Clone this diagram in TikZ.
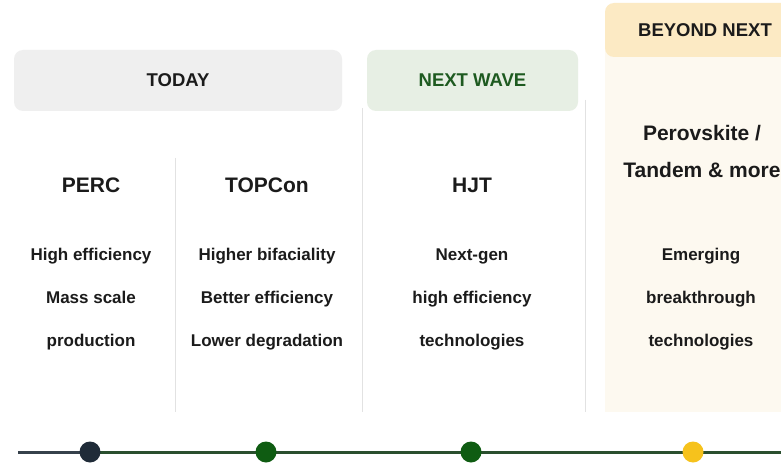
\documentclass[tikz,border=0pt]{standalone}
\usepackage{fontspec}
\setmainfont{Liberation Sans}
\definecolor{todayfill}{HTML}{EFEFEF}
\definecolor{wavefill}{HTML}{E7EFE4}
\definecolor{wavetext}{HTML}{1E5A20}
\definecolor{beyondfill}{HTML}{FCEAC4}
\definecolor{creamfill}{HTML}{FDF9F0}
\definecolor{sepgray}{HTML}{E2E2E2}
\definecolor{textdark}{HTML}{1B1B1B}
\definecolor{dotnavy}{HTML}{1F2B38}
\definecolor{dotgreen}{HTML}{0F5C12}
\definecolor{dotyellow}{HTML}{F6C21C}
\definecolor{linegray}{HTML}{36414B}
\definecolor{linegreen}{HTML}{2A4F2E}
\begin{document}
\begin{tikzpicture}[x=1pt, y=-1pt,
    stagebox/.style={rounded corners=9pt, inner sep=0pt, text=textdark,
        font=\bfseries\fontsize{18.5}{22}\selectfont},
    colhead/.style={align=center, text=textdark, inner sep=0pt,
        font=\bfseries\fontsize{21}{37}\selectfont},
    colbody/.style={align=center, text=textdark, inner sep=0pt,
        font=\bfseries\fontsize{17}{43}\selectfont},
    sepline/.style={draw=sepgray, line width=1pt},
    dot/.style={circle, inner sep=0pt, minimum size=21pt}]
    \useasboundingbox (0,0) rectangle (781,465);
    \clip (0,0) rectangle (781,465);
    \fill[white] (0,0) rectangle (781,465);

    % Beyond column background
    \fill[creamfill] (605,40) rectangle (810,412);

    % Stage boxes
    \node[stagebox, fill=todayfill, minimum width=328pt, minimum height=61pt] (today) at (178,80.5) {TODAY};
    \node[stagebox, fill=wavefill, text=wavetext, minimum width=211pt, minimum height=61pt] (wave) at (472.5,80.5) {NEXT WAVE};
    \node[stagebox, fill=beyondfill, minimum width=200pt, minimum height=54pt] (beyond) at (705,30) {BEYOND NEXT};

    % Column separators
    \coordinate (s1t) at (175,158);
    \coordinate (s1b) at (175,412);
    \coordinate (s2t) at (362,108);
    \coordinate (s2b) at (362,412);
    \coordinate (s3t) at (585,100);
    \coordinate (s3b) at (585,412);
    \draw[sepline] (s1t) -- (s1b);
    \draw[sepline] (s2t) -- (s2b);
    \draw[sepline] (s3t) -- (s3b);

    % Column headings
    \node[colhead] (perc) at (91,185) {PERC};
    \node[colhead] (topcon) at (267,185) {TOPCon};
    \node[colhead] (hjt) at (472,185) {HJT};
    \node[colhead] (perov) at (702,151.5) {Perovskite /\\Tandem \& more};

    % Column texts
    \node[colbody] (percbody) at (91,299) {High efficiency\\Mass scale\\production};
    \node[colbody] (topconbody) at (267,299) {Higher bifaciality\\Better efficiency\\Lower degradation};
    \node[colbody] (hjtbody) at (472,299) {Next-gen\\high efficiency\\technologies};
    \node[colbody] (perovbody) at (701,299) {Emerging\\breakthrough\\technologies};

    % Timeline
    \coordinate (tstart) at (18,452);
    \coordinate (tend) at (790,452);
    \node[dot] (d1) at (90,452) {};
    \node[dot] (d2) at (266,452) {};
    \node[dot] (d3) at (471,452) {};
    \node[dot] (d4) at (693,452) {};
    \draw[linegray, line width=3pt] (tstart) -- (d1.center);
    \draw[linegreen, line width=3pt] (d1.center) -- (tend);
    \fill[dotnavy] (d1) circle (10.5);
    \fill[dotgreen] (d2) circle (10.5);
    \fill[dotgreen] (d3) circle (10.5);
    \fill[dotyellow] (d4) circle (10.5);
\end{tikzpicture}
\end{document}
